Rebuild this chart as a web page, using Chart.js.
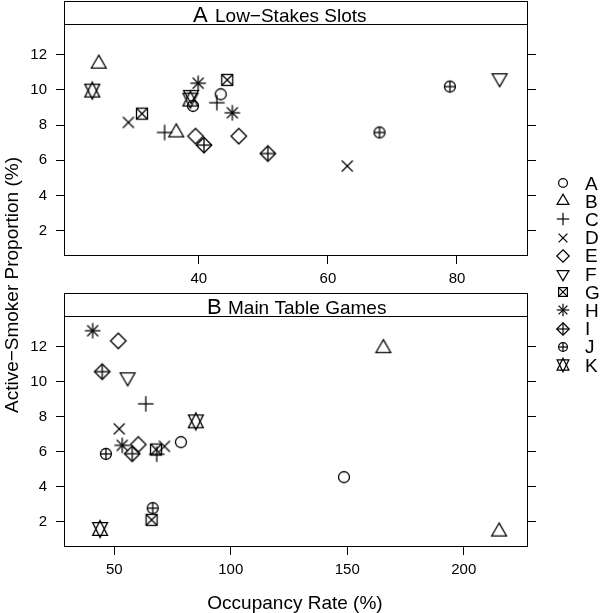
<!DOCTYPE html>
<html><head><meta charset="utf-8">
<script src="https://cdn.jsdelivr.net/npm/chart.js@4.4.1/dist/chart.umd.min.js"></script>
<style>
html,body{margin:0;padding:0;background:#fff;}
body{width:600px;height:613px;position:relative;overflow:hidden;font-family:"Liberation Sans",Arial,Helvetica,sans-serif;color:#000;}
canvas.panel{position:absolute;left:0;}
.ytitle{position:absolute;left:-138px;top:274px;width:300px;height:22px;line-height:22px;font-size:19px;text-align:center;transform:rotate(-90deg);white-space:nowrap;}
.xtitle{position:absolute;left:145px;top:592px;width:300px;height:22px;line-height:22px;font-size:19px;text-align:center;white-space:nowrap;}
.lgtext{position:absolute;font-size:19px;line-height:22px;height:22px;white-space:nowrap;}
.lgicon{position:absolute;}
</style></head>
<body>
<canvas id="cA" class="panel" width="600" height="290" style="top:0px;width:600px;height:290px"></canvas>
<canvas id="cB" class="panel" width="600" height="333" style="top:280px;width:600px;height:333px"></canvas>
<div class="ytitle">Active−Smoker Proportion (%)</div>
<div class="xtitle">Occupancy Rate (%)</div>
<div id="legend"></div>
<script>
// ---- data ----
const groups = ['A','B','C','D','E','F','G','H','I','J','K'];
// Panel A: Low-Stakes Slots (occupancy %, active-smoker %)
const slotsOccupancy = [[39.1,43.4],[24.5,36.5],[34.7,42.8],[29.1,63.0],[39.5,46.2],[38.8,86.6],[31.2,44.4],[39.9,45.2],[40.8,50.7],[68.0,78.9],[23.5,38.7]];
const slotsSmoker    = [[9.09,9.75],[11.49,7.58],[7.58,9.27],[8.15,5.67],[7.37,7.37],[9.72,10.67],[8.65,10.57],[10.38,8.70],[6.86,6.38],[7.58,10.19],[9.96,9.45]];
// Panel B: Main Table Games
const tableOccupancy = [[78.6,148.6],[165.5,215.2],[63.5,68.2],[52.1,71.5],[51.7,60.3],[55.7],[67.9,66.0],[40.7,53.4],[44.8,57.7],[46.4,66.5],[85.0,43.9]];
const tableSmoker    = [[6.54,4.54],[11.91,1.43],[8.73,5.85],[7.30,6.30],[12.33,6.41],[10.25],[6.12,2.10],[12.91,6.36],[10.57,5.88],[5.87,2.77],[7.73,1.58]];
const yTickValues = [2,4,6,8,10,12];
const xTicksSlots = [40,60,80];
const xTicksTable = [50,100,150,200];
const symbolNames = ['circle','triUp','plus','cross','diamond','triDown','boxX','asterisk','diamondPlus','circlePlus','hexagram'];

// ---- symbols (R-like pch 1..11) ----
const TRC0 = Math.sqrt(4*Math.PI/(3*Math.sqrt(3))), TRC1 = TRC0*Math.sqrt(3)/2, TRC2 = TRC0/2, SQ2 = Math.SQRT2;
function symbolCanvas(name, xc, lw){
  const S = 2*Math.ceil(xc*1.7)+4;
  const c = document.createElement('canvas'); c.width=S; c.height=S;
  const g = c.getContext('2d');
  g.translate(S/2, S/2); g.strokeStyle='#000'; g.lineWidth=lw; g.lineJoin='miter';
  const line=(x1,y1,x2,y2)=>{g.beginPath();g.moveTo(x1,y1);g.lineTo(x2,y2);g.stroke();};
  const circ=(r)=>{g.beginPath();g.arc(0,0,r,0,2*Math.PI);g.stroke();};
  const poly=(pts)=>{g.beginPath();g.moveTo(pts[0][0],pts[0][1]);for(let i=1;i<pts.length;i++)g.lineTo(pts[i][0],pts[i][1]);g.closePath();g.stroke();};
  const plus=(h)=>{line(-h,0,h,0);line(0,-h,0,h);};
  const cross=(h)=>{line(-h,-h,h,h);line(-h,h,h,-h);};
  const diamond=(h)=>poly([[0,-h],[h,0],[0,h],[-h,0]]);
  const r=TRC0*xc, yc=TRC2*xc, xt=TRC1*xc;
  switch(name){
    case 'circle': circ(xc); break;
    case 'triUp': poly([[0,-r],[xt,yc],[-xt,yc]]); break;
    case 'plus': plus(SQ2*xc); break;
    case 'cross': cross(xc); break;
    case 'diamond': diamond(SQ2*xc); break;
    case 'triDown': poly([[0,r],[xt,-yc],[-xt,-yc]]); break;
    case 'boxX': g.strokeRect(-xc,-xc,2*xc,2*xc); cross(xc); break;
    case 'asterisk': cross(xc); plus(SQ2*xc); break;
    case 'diamondPlus': diamond(SQ2*xc); plus(SQ2*xc); break;
    case 'circlePlus': circ(xc); plus(xc); break;
    case 'hexagram': {
      const yh = 0.5*(yc+r);
      poly([[0,r],[xt,-yh],[-xt,-yh]]);
      poly([[0,-r],[xt,yh],[-xt,yh]]);
      break; }
  }
  return c;
}
const plotSymbols = symbolNames.map(n=>symbolCanvas(n,5.5,1.3));
const legendSymbols = symbolNames.map(n=>symbolCanvas(n,4.4,1.2));

// ---- strip / frame plugin ----
const stripPlugin = {
  id:'strip',
  afterDraw(chart, args, o){
    const ctx = chart.ctx, a = chart.chartArea;
    const L=Math.round(a.left)+0.5, R=Math.round(a.right)-0.5, T=Math.round(a.top)+0.5, B=Math.round(a.bottom)-0.5;
    const ST = o.top+0.5;
    ctx.save();
    ctx.strokeStyle='#000'; ctx.lineWidth=1;
    ctx.strokeRect(L, ST, R-L, B-ST);
    ctx.beginPath(); ctx.moveTo(L,T); ctx.lineTo(R,T); ctx.stroke();
    ctx.fillStyle='#000'; ctx.textBaseline='alphabetic'; ctx.textAlign='left';
    ctx.font='22px "Liberation Sans", Arial, sans-serif';
    ctx.fillText(o.letter, o.letterX, o.baseline);
    ctx.font='19px "Liberation Sans", Arial, sans-serif';
    ctx.fillText(o.text, o.textX, o.baseline);
    ctx.restore();
  }
};

function makePanel(id, occ, smk, xMin, xMax, xTicks, padTop, xAxisH, strip){
  const datasets = groups.map((gname,i)=>({
    label: gname,
    data: occ[i].map((x,j)=>({x:x, y:smk[i][j]})),
    pointStyle: plotSymbols[i],
    pointRadius: 5,
    borderColor:'#000', backgroundColor:'rgba(0,0,0,0)',
    showLine:false
  }));
  const tickFont = {family:'"Liberation Sans", Arial, sans-serif', size:15};
  const grid = {display:true, drawOnChartArea:false, drawTicks:true, tickLength:8, color:'#000', lineWidth:1};
  return new Chart(document.getElementById(id), {
    type:'scatter',
    data:{datasets},
    options:{
      responsive:false, animation:false, devicePixelRatio:1,
      layout:{padding:{top:padTop,left:0,right:0,bottom:0}},
      plugins:{legend:{display:false}, tooltip:{enabled:false}, strip},
      scales:{
        x:{type:'linear', position:'bottom', min:xMin, max:xMax,
           afterBuildTicks:(s)=>{s.ticks = xTicks.map(v=>({value:v}));},
           afterFit:(s)=>{s.height = xAxisH;},
           ticks:{font:tickFont, color:'#000', padding:6, maxRotation:0, autoSkip:false, callback:(v)=>String(v)},
           grid, border:{display:false}},
        y:{type:'linear', position:'left', min:0.55, max:13.75,
           afterBuildTicks:(s)=>{s.ticks = yTickValues.map(v=>({value:v}));},
           afterFit:(s)=>{s.width = 64;},
           ticks:{font:tickFont, color:'#000', padding:9, autoSkip:false, callback:(v)=>String(v)},
           grid, border:{display:false}},
        yR:{type:'linear', position:'right', min:0.55, max:13.75,
           afterBuildTicks:(s)=>{s.ticks = yTickValues.map(v=>({value:v}));},
           afterFit:(s)=>{s.width = 72;},
           ticks:{display:false},
           grid, border:{display:false}}
      }
    },
    plugins:[stripPlugin]
  });
}

makePanel('cA', slotsOccupancy, slotsSmoker, 19.12, 91.0, xTicksSlots, 24, 34,
  {top:1, letter:'A', text:'Low−Stakes Slots', letterX:193, textX:215, baseline:21.7});
makePanel('cB', tableOccupancy, tableSmoker, 28.4, 227.6, xTicksTable, 36, 66,
  {top:13, letter:'B', text:'Main Table Games', letterX:207, textX:228, baseline:34});

// ---- legend ----
const lg = document.getElementById('legend');
groups.forEach((gname,i)=>{
  const yc = 183 + i*18.2;
  const ic = legendSymbols[i];
  ic.className='lgicon';
  ic.style.left = (563.3 - ic.width/2)+'px';
  ic.style.top = (yc - ic.height/2)+'px';
  lg.appendChild(ic);
  const t = document.createElement('div');
  t.className='lgtext'; t.textContent=gname;
  t.style.left='585px'; t.style.top=(yc-10.5)+'px';
  lg.appendChild(t);
});
</script>
</body></html>
